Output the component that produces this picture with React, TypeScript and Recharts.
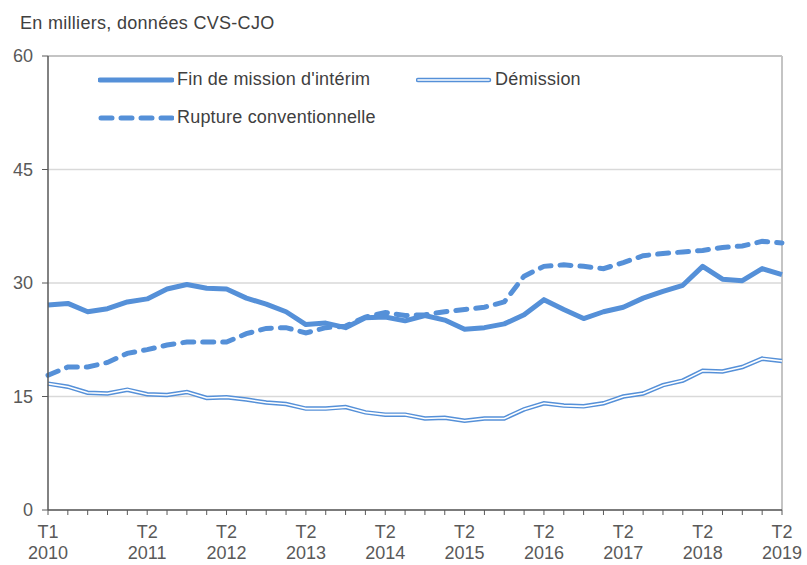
import { LineChart, Line, XAxis, YAxis, CartesianGrid, ReferenceLine } from 'recharts';

const quarters = [
  'T1 2010', 'T2 2010', 'T3 2010', 'T4 2010',
  'T1 2011', 'T2 2011', 'T3 2011', 'T4 2011',
  'T1 2012', 'T2 2012', 'T3 2012', 'T4 2012',
  'T1 2013', 'T2 2013', 'T3 2013', 'T4 2013',
  'T1 2014', 'T2 2014', 'T3 2014', 'T4 2014',
  'T1 2015', 'T2 2015', 'T3 2015', 'T4 2015',
  'T1 2016', 'T2 2016', 'T3 2016', 'T4 2016',
  'T1 2017', 'T2 2017', 'T3 2017', 'T4 2017',
  'T1 2018', 'T2 2018', 'T3 2018', 'T4 2018',
  'T1 2019', 'T2 2019',
];

const finMission = [
  27.1, 27.3, 26.2, 26.6, 27.5, 27.9, 29.2, 29.8, 29.3, 29.2,
  28.0, 27.2, 26.2, 24.5, 24.7, 24.1, 25.4, 25.5, 25.0, 25.7,
  25.1, 23.9, 24.1, 24.6, 25.8, 27.8, 26.5, 25.3, 26.2, 26.8,
  28.0, 28.9, 29.7, 32.2, 30.5, 30.3, 31.9, 31.1,
];

const rupture = [
  17.8, 18.9, 18.9, 19.5, 20.7, 21.2, 21.8, 22.2, 22.2, 22.2,
  23.3, 24.0, 24.1, 23.4, 24.1, 24.3, 25.5, 26.1, 25.7, 25.8,
  26.2, 26.5, 26.8, 27.5, 30.9, 32.2, 32.4, 32.2, 31.9, 32.7,
  33.6, 33.9, 34.1, 34.3, 34.7, 34.9, 35.5, 35.3,
];

const demission = [
  16.7, 16.3, 15.5, 15.4, 15.9, 15.3, 15.2, 15.6, 14.8, 14.9,
  14.6, 14.2, 14.0, 13.4, 13.4, 13.6, 12.9, 12.6, 12.6, 12.1,
  12.2, 11.8, 12.1, 12.1, 13.3, 14.1, 13.8, 13.7, 14.1, 15.0,
  15.4, 16.5, 17.1, 18.4, 18.3, 18.9, 20.0, 19.7,
];

const labeledTicks = [
  'T1 2010', 'T2 2011', 'T2 2012', 'T2 2013', 'T2 2014',
  'T2 2015', 'T2 2016', 'T2 2017', 'T2 2018', 'T2 2019',
];

const yTicks = [0, 15, 30, 45, 60];

const data = quarters.map((q, i) => ({
  q,
  fin: finMission[i],
  rupture: rupture[i],
  demission: demission[i],
}));

const BLUE = '#5590d8';
const FONT = '"Liberation Sans", Arial, sans-serif';

const QuarterTick = ({ x, y, payload }: any) => {
  if (!labeledTicks.includes(payload.value)) return null;
  const [t, year] = payload.value.split(' ');
  return (
    <g transform={`translate(${x},${y})`}>
      <text x={0} y={21} textAnchor="middle" fill="#595959" fontSize={18} fontFamily={FONT}>{t}</text>
      <text x={0} y={42} textAnchor="middle" fill="#595959" fontSize={18} fontFamily={FONT}>{year}</text>
    </g>
  );
};

function LegendItem({ kind, label, left, top }: { kind: string; label: string; left: number; top: number }) {
  return (
    <div style={{ position: 'absolute', left, top, display: 'flex', alignItems: 'center' }}>
      <svg width={76} height={10} style={{ display: 'block' }}>
        {kind === 'solid' && <line x1={2} y1={5} x2={74} y2={5} stroke={BLUE} strokeWidth={5} strokeLinecap="round" />}
        {kind === 'dashed' && (
          <line x1={3} y1={5} x2={74} y2={5} stroke={BLUE} strokeWidth={5} strokeLinecap="round" strokeDasharray="11 9" />
        )}
        {kind === 'double' && (
          <>
            <line x1={2} y1={5} x2={73} y2={5} stroke={BLUE} strokeWidth={4.5} strokeLinecap="round" />
            <line x1={2} y1={5} x2={73} y2={5} stroke="#ffffff" strokeWidth={1.6} strokeLinecap="round" />
          </>
        )}
      </svg>
      <span style={{ fontFamily: FONT, fontSize: 18, letterSpacing: 0.2, color: '#404040', marginLeft: 3 }}>{label}</span>
    </div>
  );
}

export default function App() {
  return (
    <div style={{ position: 'relative', width: 807, height: 565, background: '#ffffff' }}>
      <style>{'body{margin:0}'}</style>
      <div
        style={{
          position: 'absolute', left: 20, top: 13, fontFamily: FONT, fontSize: 18, letterSpacing: 0.3, color: '#404040',
        }}
      >
        En milliers, données CVS-CJO
      </div>
      <LineChart width={807} height={565} data={data} margin={{ top: 56, right: 25, bottom: 0, left: 0 }}>
        <CartesianGrid horizontal vertical={false} stroke="#d9d9d9" strokeWidth={1.5} />
        <ReferenceLine y={60} stroke="#c4c4c4" strokeWidth={2} />
        <ReferenceLine x="T2 2019" stroke="#c4c4c4" strokeWidth={2} />
        <XAxis
          dataKey="q"
          interval={0}
          height={55}
          tick={<QuarterTick />}
          tickSize={5}
          tickLine={{ stroke: '#595959' }}
          axisLine={{ stroke: '#595959', strokeWidth: 1.5 }}
        />
        <YAxis
          domain={[0, 60]}
          ticks={yTicks}
          width={48}
          tickSize={6}
          tickMargin={9}
          tick={{ fill: '#595959', fontSize: 18, fontFamily: FONT }}
          tickLine={{ stroke: '#595959' }}
          axisLine={{ stroke: '#595959', strokeWidth: 1.5 }}
        />
        <Line type="linear" dataKey="demission" stroke={BLUE} strokeWidth={4.5} dot={false} isAnimationActive={false} />
        <Line type="linear" dataKey="demission" stroke="#ffffff" strokeWidth={1.6} dot={false} isAnimationActive={false} />
        <Line
          type="linear"
          dataKey="rupture"
          stroke={BLUE}
          strokeWidth={5}
          strokeDasharray="11 9"
          strokeLinecap="round"
          dot={false}
          isAnimationActive={false}
        />
        <Line type="linear" dataKey="fin" stroke={BLUE} strokeWidth={5} strokeLinejoin="round" dot={false} isAnimationActive={false} />
      </LineChart>
      <LegendItem kind="solid" label="Fin de mission d'intérim" left={98} top={69} />
      <LegendItem kind="double" label="Démission" left={416} top={69} />
      <LegendItem kind="dashed" label="Rupture conventionnelle" left={98} top={107} />
    </div>
  );
}
